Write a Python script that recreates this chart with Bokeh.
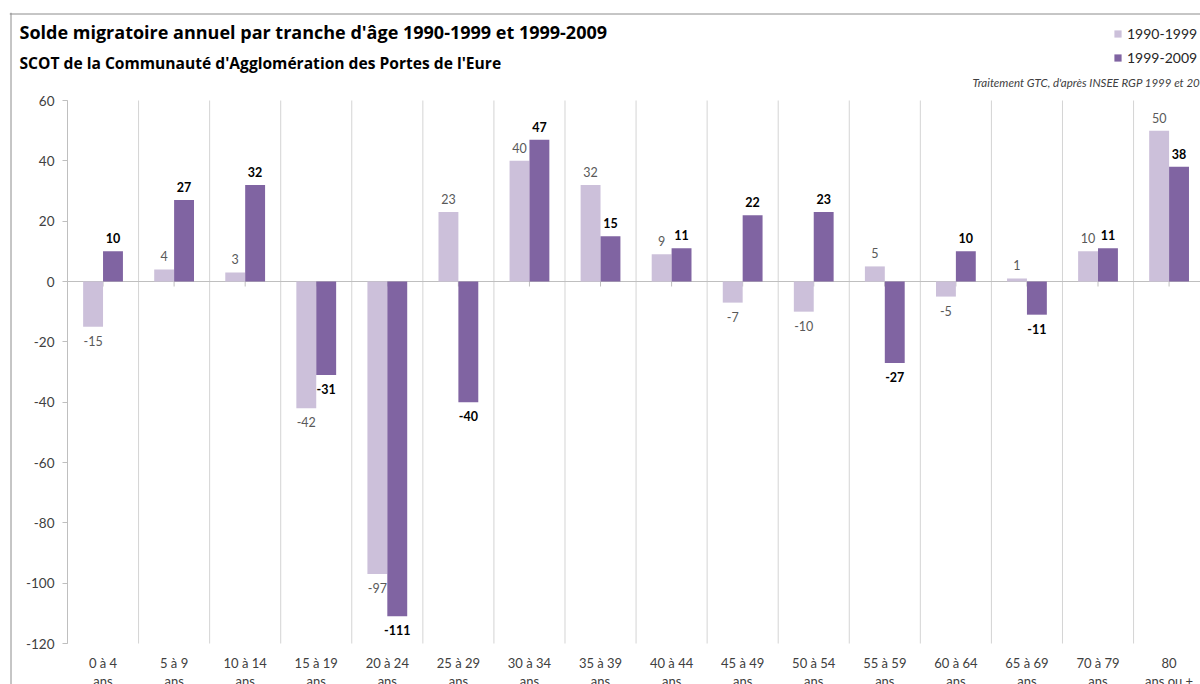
from bokeh.plotting import figure
from bokeh.models import (ColumnDataSource, Range1d, FixedTicker, Span, Label,
                          Legend, LegendItem)
from bokeh.core.properties import value
from bokeh.embed import file_html
from bokeh.resources import INLINE

# Age groups and annual migration balance per period
age_groups = ["0 à 4\nans", "5 à 9\nans", "10 à 14\nans", "15 à 19\nans",
              "20 à 24\nans", "25 à 29\nans", "30 à 34\nans", "35 à 39\nans",
              "40 à 44\nans", "45 à 49\nans", "50 à 54\nans", "55 à 59\nans",
              "60 à 64\nans", "65 à 69\nans", "70 à 79\nans", "80\nans ou +"]
solde_1990_1999 = [-15, 4, 3, -42, -97, 23, 40, 32, 9, -7, -10, 5, -5, 1, 10, 50]
solde_1999_2009 = [10, 27, 32, -31, -111, -40, 47, 15, 11, 22, 23, -27, 10, -11, 11, 38]
series_names = ["1990-1999", "1999-2009"]
y_ticks = [-120, -100, -80, -60, -40, -20, 0, 20, 40, 60]

LIGHT = "#CCC0DA"
DARK = "#8064A2"
TEXT = "#404040"
GRID = "#D4D4D4"
AXIS = "#BFBFBF"
FONT = "Lato"
HEAD_FONT = "Open Sans"

n = len(age_groups)
centers = [i + 0.5 for i in range(n)]
bounds_x = list(range(n + 1))
y_lo, y_hi = y_ticks[0], y_ticks[-1]
bar_w = 0.28

# pixel geometry of the plotting area
W, H = 1200, 684
LEFT_PAD, TOP_PAD = 9, 12          # canvas margin left of / above the frame
X0_PX, CAT_PX = 67, 71.07          # screen x of the first group edge, group width
YTOP_PX, YBOT_PX = 100, 643        # screen y of y_hi and y_lo
PX_PER_UNIT = (YBOT_PX - YTOP_PX) / (y_hi - y_lo)

x_start = (LEFT_PAD - X0_PX) / CAT_PX
x_end = (W - X0_PX) / CAT_PX
y_start = y_lo - (H - YBOT_PX) / PX_PER_UNIT
y_end = y_hi + (YTOP_PX - TOP_PAD) / PX_PER_UNIT


def label_offsets(vals):
    return [-13 if v >= 0 else 14 for v in vals]


src_a = ColumnDataSource(dict(x=[c - bar_w / 2 for c in centers], v=solde_1990_1999,
                              t=[str(v) for v in solde_1990_1999],
                              off=label_offsets(solde_1990_1999)))
src_b = ColumnDataSource(dict(x=[c + bar_w / 2 for c in centers], v=solde_1999_2009,
                              t=[str(v) for v in solde_1999_2009],
                              off=label_offsets(solde_1999_2009)))

p = figure(width=W, height=H, output_backend="svg", toolbar_location=None,
           x_range=Range1d(x_start, x_end), y_range=Range1d(y_start, y_end),
           min_border_left=LEFT_PAD, min_border_right=0, min_border_top=TOP_PAD,
           min_border_bottom=0)
p.outline_line_color = None
p.background_fill_color = "white"
p.border_fill_color = "white"
p.xgrid.grid_line_color = None
p.ygrid.grid_line_color = None

# chart frame: top and left edges
p.add_layout(Span(location=(LEFT_PAD + 1.5 - X0_PX) / CAT_PX, dimension="height",
                  line_color="#8C8C8C", line_width=1))
p.add_layout(Span(location=y_hi + (YTOP_PX - TOP_PAD - 1.5) / PX_PER_UNIT,
                  dimension="width", line_color="#8C8C8C", line_width=1))

# vertical separators between age groups
p.segment(x0=bounds_x, y0=[y_lo] * len(bounds_x), x1=bounds_x, y1=[y_hi] * len(bounds_x),
          line_color=GRID, line_width=1)

# y axis, drawn at the first group edge
p.yaxis.fixed_location = 0
p.yaxis.bounds = (y_lo, y_hi)
p.yaxis.ticker = FixedTicker(ticks=y_ticks)
p.yaxis.major_label_overrides = {v: str(v) for v in y_ticks}
p.yaxis.axis_line_color = AXIS
p.yaxis.major_tick_line_color = AXIS
p.yaxis.major_tick_out = 5
p.yaxis.major_tick_in = 0
p.yaxis.minor_tick_line_color = None
p.yaxis.major_label_standoff = 8
p.yaxis.major_label_text_font = FONT
p.yaxis.major_label_text_font_size = "13.5px"
p.yaxis.major_label_text_color = TEXT

# x axis: group labels under the lowest value
p.xaxis.fixed_location = y_lo
p.xaxis.ticker = FixedTicker(ticks=centers)
p.xaxis.major_label_overrides = {c: lab for c, lab in zip(centers, age_groups)}
p.xaxis.axis_line_color = None
p.xaxis.major_tick_line_color = None
p.xaxis.major_tick_out = 0
p.xaxis.major_tick_in = 0
p.xaxis.minor_tick_line_color = None
p.xaxis.major_label_standoff = 11
p.xaxis.major_label_text_font = FONT
p.xaxis.major_label_text_font_size = "13px"
p.xaxis.major_label_text_color = TEXT
p.xaxis.major_label_text_line_height = 1.18

# zero line with small ticks at each group
p.segment(x0=[bounds_x[0]], y0=[0], x1=[x_end], y1=[0], line_color=AXIS, line_width=1)
p.segment(x0=centers, y0=[0] * n, x1=centers, y1=[-5 / PX_PER_UNIT] * n,
          line_color=AXIS, line_width=1)

r_a = p.vbar(x="x", top="v", bottom=0, width=bar_w, source=src_a,
             fill_color=LIGHT, line_color=None)
r_b = p.vbar(x="x", top="v", bottom=0, width=bar_w, source=src_b,
             fill_color=DARK, line_color=None)

# value labels
p.text(x="x", y="v", text="t", y_offset="off", source=src_a,
       text_font=value(FONT), text_font_size="12.5px", text_color="#595959",
       text_align="center", text_baseline="middle")
p.text(x="x", y="v", text="t", y_offset="off", source=src_b,
       text_font=value(FONT), text_font_size="12.5px", text_color="black",
       text_font_style="bold", text_align="center", text_baseline="middle")

legend = Legend(items=[LegendItem(label=series_names[0], renderers=[r_a]),
                       LegendItem(label=series_names[1], renderers=[r_b])],
                location=(1113 - LEFT_PAD, H - 67), orientation="vertical",
                glyph_width=9, glyph_height=9, label_standoff=5, spacing=4,
                label_height=20, padding=0, margin=0, border_line_color=None,
                background_fill_alpha=0,
                label_text_font=FONT, label_text_font_size="14px",
                label_text_color="#262626")
p.add_layout(legend)

# headings (screen units are measured from the frame's lower-left corner)
p.add_layout(Label(x=19 - LEFT_PAD, y=H - 31, x_units="screen", y_units="screen",
                   text="Solde migratoire annuel par tranche d'âge 1990-1999 et 1999-2009",
                   text_font=HEAD_FONT, text_font_style="bold", text_font_size="18px",
                   text_color="black", text_baseline="middle"))
p.add_layout(Label(x=19 - LEFT_PAD, y=H - 62, x_units="screen", y_units="screen",
                   text="SCOT de la Communauté d'Agglomération des Portes de l'Eure",
                   text_font=HEAD_FONT, text_font_style="bold", text_font_size="15.6px",
                   text_color="black", text_baseline="middle"))
p.add_layout(Label(x=972 - LEFT_PAD, y=H - 82, x_units="screen", y_units="screen",
                   text="Traitement GTC, d'après INSEE RGP 1999 et 2009",
                   text_font=FONT, text_font_style="italic", text_font_size="11.5px",
                   text_color=TEXT, text_baseline="middle"))

open("out.html", "w").write(file_html(p, INLINE))
